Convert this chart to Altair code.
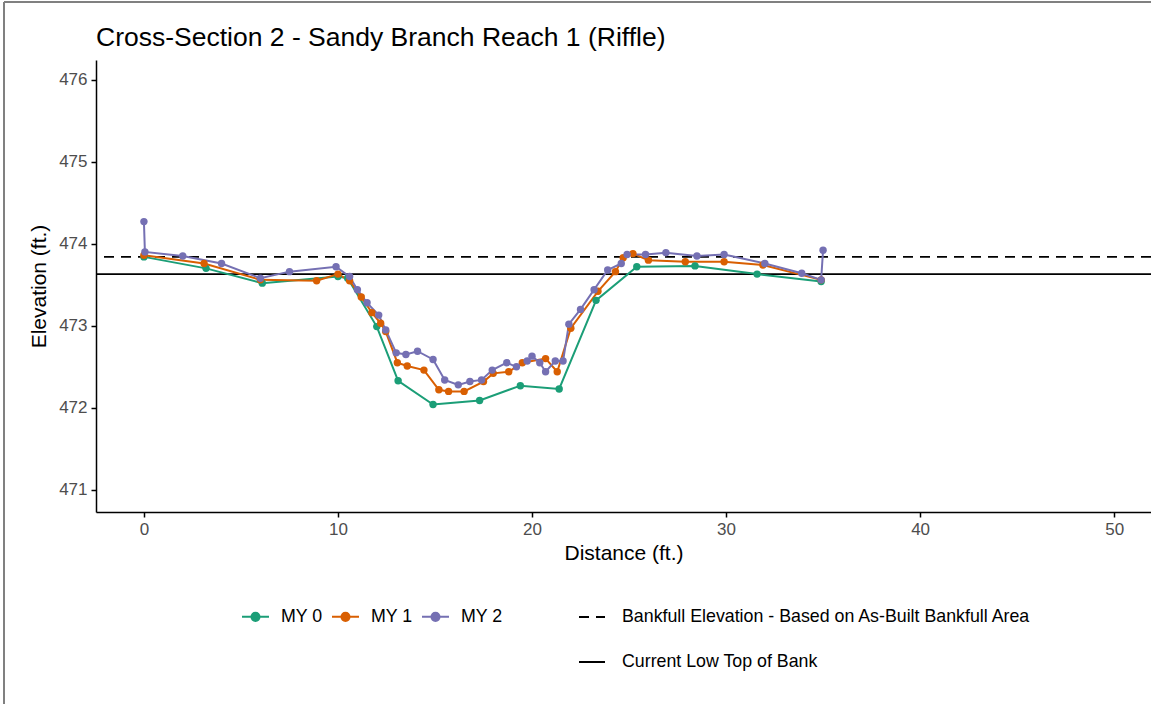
import altair as alt
import pandas as pd

series_names = ["MY 0", "MY 1", "MY 2"]
series_colors = ["#1b9e77", "#d95f02", "#7570b3"]

my0_dist = [0.0, 3.2, 6.1, 10.0, 10.5, 12.0, 13.1, 14.9, 17.3, 19.4, 21.4, 23.3, 25.4, 28.4, 31.6, 34.9]
my0_elev = [473.84, 473.70, 473.52, 473.60, 473.58, 472.99, 472.33, 472.04, 472.09, 472.27, 472.23,
            473.31, 473.72, 473.73, 473.63, 473.54]

my1_dist = [0.0, 3.1, 6.0, 8.9, 10.0, 10.6, 11.2, 11.75, 12.2, 12.46, 13.06, 13.57, 14.43, 15.2, 15.7,
            16.5, 17.5, 18.0, 18.8, 19.5, 20.7, 21.3, 22.0, 23.4, 24.3, 24.7, 25.2, 26.0, 27.9, 29.9,
            31.9, 34.9]
my1_elev = [473.86, 473.76, 473.56, 473.55, 473.63, 473.55, 473.35, 473.16, 473.03, 472.93, 472.55,
            472.51, 472.46, 472.22, 472.20, 472.20, 472.32, 472.42, 472.44, 472.55, 472.60, 472.44,
            472.97, 473.42, 473.66, 473.83, 473.88, 473.80, 473.78, 473.78, 473.74, 473.56]

my2_dist = [0.0, 0.05, 2.0, 4.0, 6.0, 7.5, 9.9, 10.6, 11.0, 11.5, 12.1, 12.46, 13.0, 13.5, 14.1, 14.9,
            15.5, 16.2, 16.8, 17.4, 17.95, 18.7, 19.2, 19.75, 20.0, 20.4, 20.7, 21.2, 21.6, 21.9, 22.5,
            23.2, 23.9, 24.6, 24.9, 25.85, 26.9, 28.5, 29.9, 32.0, 33.9, 34.9, 35.0]
my2_elev = [474.27, 473.90, 473.85, 473.76, 473.58, 473.66, 473.72, 473.60, 473.44, 473.28, 473.13,
            472.95, 472.67, 472.65, 472.69, 472.59, 472.34, 472.28, 472.32, 472.34, 472.46, 472.55,
            472.50, 472.57, 472.63, 472.55, 472.44, 472.57, 472.57, 473.02, 473.20, 473.44, 473.68,
            473.76, 473.87, 473.87, 473.89, 473.85, 473.87, 473.76, 473.64, 473.56, 473.92]

bankfull_label = "Bankfull Elevation - Based on As-Built Bankfull Area"
lowbank_label = "Current Low Top of Bank"
ref_names = [bankfull_label, lowbank_label]
ref_elev = [473.84, 473.63]

chart_title = "Cross-Section 2 - Sandy Branch Reach 1 (Riffle)"

x_ticks = [0, 10, 20, 30, 40, 50]
y_ticks = [471, 472, 473, 474, 475, 476]

rows = []
for name, xs, ys in zip(series_names, [my0_dist, my1_dist, my2_dist], [my0_elev, my1_elev, my2_elev]):
    for i, (d, e) in enumerate(zip(xs, ys)):
        rows.append({"series": name, "dist": d, "elev": e, "idx": i})
df = pd.DataFrame(rows)
refs = pd.DataFrame({"name": ref_names, "elev": ref_elev})

FONT = "Liberation Sans"

x_enc = alt.X("dist:Q", title="Distance (ft.)",
              scale=alt.Scale(domain=[-2.47, 51.9], nice=False, zero=False),
              axis=alt.Axis(values=x_ticks, format="d"))
y_enc = alt.Y("elev:Q", title="Elevation (ft.)",
              scale=alt.Scale(domain=[470.73, 476.24], nice=False, zero=False),
              axis=alt.Axis(values=y_ticks, format="d"))

color_enc = alt.Color(
    "series:N",
    scale=alt.Scale(domain=series_names, range=series_colors),
    legend=alt.Legend(
        title=None, orient="none", direction="horizontal",
        legendX=145, legendY=542,
        symbolType="M-1,0L1,0M0.3,0A0.3,0.3,0,1,1,-0.3,0A0.3,0.3,0,1,1,0.3,0Z",
        symbolSize=729, symbolStrokeWidth=2,
        labelFontSize=17.8, labelFont=FONT, labelColor="black", labelLimit=0,
        labelOffset=11, columnPadding=5,
    ),
)

rules = alt.Chart(refs).mark_rule(strokeWidth=1.8, color="black").encode(
    y=alt.Y("elev:Q"),
    strokeDash=alt.StrokeDash(
        "name:N",
        scale=alt.Scale(domain=ref_names, range=[[10, 7], [1, 0]]),
        legend=alt.Legend(
            title=None, orient="none", direction="vertical",
            legendX=482, legendY=543,
            symbolType="stroke", symbolSize=676, symbolStrokeWidth=2,
            symbolStrokeColor="black",
            labelFontSize=17.8, labelFont=FONT, labelColor="black", labelLimit=0,
            labelOffset=16, rowPadding=22,
        ),
    ),
)

lines = alt.Chart(df).mark_line(strokeWidth=2).encode(
    x=x_enc, y=y_enc, color=color_enc, order=alt.Order("idx:Q"), detail="series:N"
)
points = alt.Chart(df).mark_point(filled=True, size=55, opacity=1).encode(
    x=x_enc, y=y_enc, color=color_enc
)

single = pd.DataFrame({"k": [0]})
left_border = alt.Chart(single).mark_rule(color="#808080", strokeWidth=2).encode(
    x=alt.value(-92), y=alt.value(-58), y2=alt.value(644)
)
top_border = alt.Chart(single).mark_rule(color="#808080", strokeWidth=2).encode(
    x=alt.value(-92), x2=alt.value(1055), y=alt.value(-58)
)
title_text = alt.Chart(single).mark_text(
    font=FONT, fontSize=26.5, color="black", align="left", baseline="alphabetic"
).encode(x=alt.value(0), y=alt.value(-14), text=alt.value(chart_title))

chart = alt.layer(left_border, top_border, title_text, rules, lines, points).properties(
    width=1055, height=452,
    autosize=alt.AutoSizeParams(type="none"),
    padding={"left": 96, "top": 60, "right": 0, "bottom": 192},
).configure_view(stroke=None).configure_axis(
    grid=False, domainColor="black", domainWidth=1.5, tickColor="black",
    tickWidth=1.5, tickSize=5, labelColor="#4d4d4d", labelFontSize=17,
    labelFont=FONT, titleFont=FONT, titleFontSize=21, titleFontWeight="normal",
    titleColor="black", labelPadding=4,
).configure_axisY(titlePadding=9).configure_axisX(titlePadding=5)

chart.save("out.html", embed_options={"renderer": "svg", "actions": False})
